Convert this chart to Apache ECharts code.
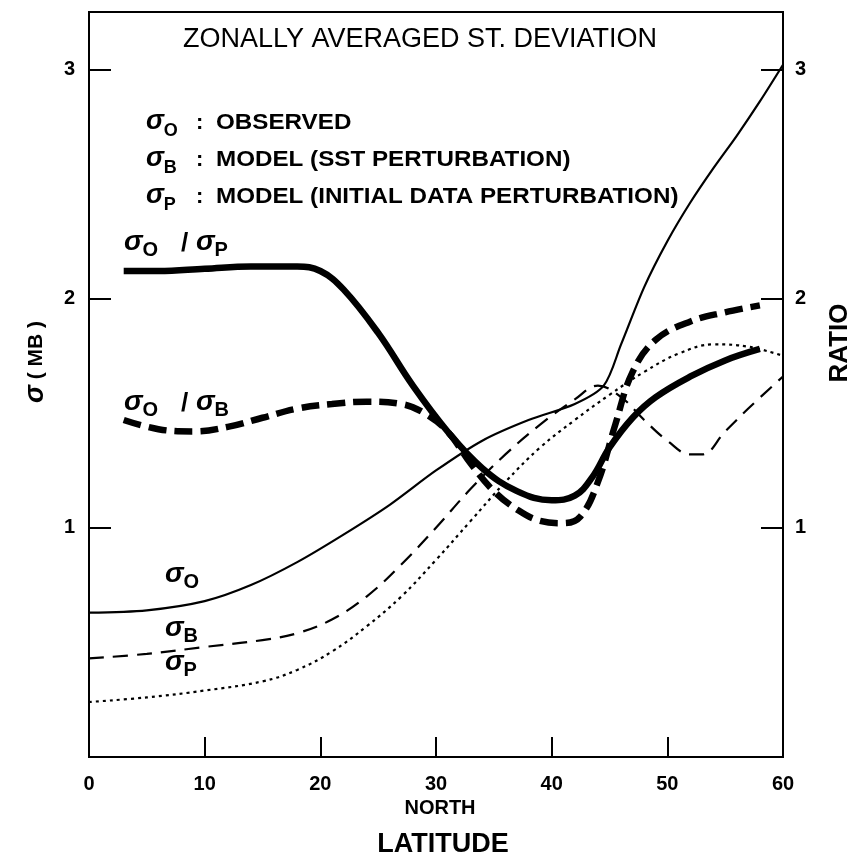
<!DOCTYPE html>
<html>
<head>
<meta charset="utf-8">
<script src="https://cdn.jsdelivr.net/npm/echarts@6/dist/echarts.min.js"></script>
<style>
html,body{margin:0;padding:0;background:#fff;}
#chart{width:857px;height:861px;}
</style>
</head>
<body>
<div id="chart"></div>
<script>
// ---- data (latitude, value) ----
const xTicks = [0, 10, 20, 30, 40, 50, 60];
const yTicks = [1, 2, 3];
const sigmaO = [[0,0.63],[5,0.64],[10,0.68],[14,0.75],[18,0.85],[22,0.97],[26,1.1],[30,1.25],[34,1.38],[38,1.47],[42,1.54],[44.5,1.62],[46,1.8],[48,2.05],[50,2.25],[52,2.42],[54,2.57],[56,2.71],[58,2.86],[60,3.02]];
const sigmaB = [[0,0.43],[5,0.45],[10,0.48],[15,0.51],[18,0.54],[21,0.6],[24,0.7],[27,0.84],[30,1.0],[33,1.17],[36,1.32],[39,1.45],[42,1.56],[44,1.62],[46,1.57],[48,1.47],[50,1.38],[52,1.32],[53,1.32],[55,1.42],[57,1.52],[60,1.66]];
const sigmaP = [[0,0.24],[5,0.26],[10,0.29],[15,0.33],[18,0.38],[21,0.46],[24,0.57],[27,0.7],[30,0.86],[33,1.03],[36,1.2],[39,1.35],[42,1.47],[45,1.58],[48,1.68],[51,1.76],[54,1.8],[57,1.79],[60,1.75]];
const ratioOP = [[3,2.12],[6,2.12],[10,2.13],[14,2.14],[18,2.14],[20,2.12],[22,2.04],[25,1.85],[28,1.62],[31,1.42],[34,1.26],[37,1.16],[40,1.12],[42,1.14],[43.5,1.22],[45,1.35],[47,1.48],[49,1.57],[52,1.66],[55,1.73],[58,1.78]];
const ratioOB = [[3,1.47],[6,1.43],[9,1.42],[12,1.44],[15,1.48],[18,1.52],[21,1.54],[24,1.55],[27,1.54],[29,1.5],[31,1.42],[33,1.28],[35,1.16],[37,1.08],[39,1.03],[41,1.02],[42.5,1.05],[44,1.2],[45.5,1.45],[47,1.68],[49,1.82],[52,1.9],[55,1.94],[58,1.97]];

const FONT = '"Liberation Sans", Arial, Helvetica, sans-serif';
const chart = echarts.init(document.getElementById('chart'), null, {renderer: 'canvas'});

function txt(x, y, text, font, extra) {
  return Object.assign({type:'text', x:x, y:y, style:{text:text, font:font, fill:'#000', align:'left', verticalAlign:'middle'}}, extra || {});
}
function sig(x, y, sub, size, subSize) {
  return [
    txt(x, y, 'σ', 'italic bold '+size+'px '+FONT),
    txt(x + size*0.66, y + size*0.32, sub, 'bold '+subSize+'px '+FONT)
  ];
}
const legendFont = 'bold 22px ' + FONT;
const wide = {scaleX: 1.1};
const graphics = [].concat(
  [{type:'text', x:420, y:40, style:{text:'ZONALLY AVERAGED ST. DEVIATION', font:'27px '+FONT, fill:'#000', align:'center', verticalAlign:'middle'}}],
  sig(146, 122, 'O', 27, 18), [txt(196, 123, ':', legendFont), txt(216, 123, 'OBSERVED', legendFont, wide)],
  sig(146, 159, 'B', 27, 18), [txt(196, 160, ':', legendFont), txt(216, 160, 'MODEL (SST PERTURBATION)', legendFont, wide)],
  sig(146, 196, 'P', 27, 18), [txt(196, 197, ':', legendFont), txt(216, 197, 'MODEL (INITIAL DATA PERTURBATION)', legendFont, wide)],
  sig(124, 242, 'O', 28, 20), [txt(181, 244, '/', 'bold 26px '+FONT)], sig(196, 242, 'P', 28, 20),
  sig(124, 402, 'O', 28, 20), [txt(181, 404, '/', 'bold 26px '+FONT)], sig(196, 402, 'B', 28, 20),
  sig(165, 574, 'O', 28, 20),
  sig(165, 628, 'B', 28, 20),
  sig(165, 662, 'P', 28, 20),
  [{type:'text', x:440, y:808, style:{text:'NORTH', font:'bold 20px '+FONT, fill:'#000', align:'center', verticalAlign:'middle'}}],
  [{type:'text', x:443, y:845, style:{text:'LATITUDE', font:'bold 27px '+FONT, fill:'#000', align:'center', verticalAlign:'middle'}}],
  [{type:'text', x:36, y:362, rotation:Math.PI/2, style:{text:'{s|σ} ( MB )', font:'bold 21px '+FONT, fill:'#000', align:'center', verticalAlign:'middle',
     rich:{s:{font:'italic bold 27px '+FONT, fill:'#000'}}}}],
  [{type:'text', x:840, y:343, rotation:Math.PI/2, style:{text:'RATIO', font:'bold 26px '+FONT, fill:'#000', align:'center', verticalAlign:'middle'}}]
);

const intLabel = v => (Math.abs(v - Math.round(v)) < 1e-6 && v > 0 ? String(v) : '');
const option = {
  animation: false,
  backgroundColor: '#fff',
  grid: {left: 89, right: 74, top: 12, bottom: 104, show: true, borderColor: '#000', borderWidth: 2, backgroundColor:'transparent'},
  xAxis: {
    type: 'value', min: 0, max: 60, interval: 10,
    axisLine: {lineStyle:{color:'#000', width:2}},
    axisTick: {inside: true, length: 20, lineStyle:{color:'#000', width:2}},
    axisLabel: {color:'#000', fontFamily: FONT, fontWeight:'bold', fontSize: 20, margin: 17},
    splitLine: {show:false}
  },
  yAxis: [
    {type:'value', min:0, max:3.25, interval:1, position:'left',
     axisLine:{show:true, lineStyle:{color:'#000', width:2}},
     axisTick:{inside:true, length:22, lineStyle:{color:'#000', width:2}},
     axisLabel:{color:'#000', fontFamily:FONT, fontWeight:'bold', fontSize:20, margin:14, formatter:intLabel, showMaxLabel:false},
     splitLine:{show:false}},
    {type:'value', min:0, max:3.25, interval:1, position:'right',
     axisLine:{show:true, lineStyle:{color:'#000', width:2}},
     axisTick:{inside:true, length:22, lineStyle:{color:'#000', width:2}},
     axisLabel:{color:'#000', fontFamily:FONT, fontWeight:'bold', fontSize:20, margin:12, formatter:intLabel, showMaxLabel:false},
     splitLine:{show:false}}
  ],
  graphic: graphics,
  series: [
    {name:'σO', type:'line', data:sigmaO, yAxisIndex:0, smooth:0.3, showSymbol:false,
     lineStyle:{color:'#000', width:2.2, type:'solid'}},
    {name:'σB', type:'line', data:sigmaB, yAxisIndex:0, smooth:0.4, showSymbol:false,
     lineStyle:{color:'#000', width:2.2, type:[15,9]}},
    {name:'σP', type:'line', data:sigmaP, yAxisIndex:0, smooth:0.4, showSymbol:false,
     lineStyle:{color:'#000', width:2.2, type:[3,4]}},
    {name:'σO/σP', type:'line', data:ratioOP, yAxisIndex:1, smooth:0.4, showSymbol:false,
     lineStyle:{color:'#000', width:6.5, type:'solid'}},
    {name:'σO/σB', type:'line', data:ratioOB, yAxisIndex:1, smooth:0.4, showSymbol:false,
     lineStyle:{color:'#000', width:6.5, type:[18,8]}}
  ]
};
chart.setOption(option);
</script>
</body>
</html>
